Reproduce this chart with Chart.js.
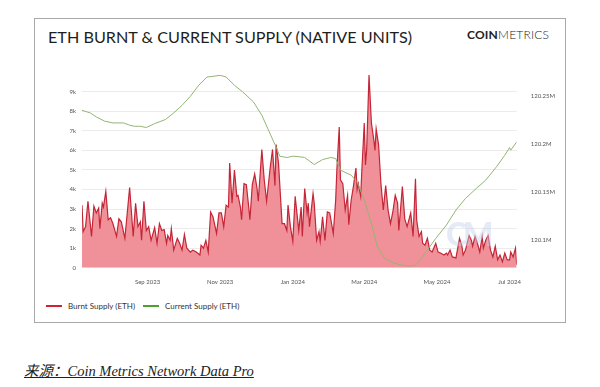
<!DOCTYPE html>
<html>
<head>
<meta charset="utf-8">
<script src="https://cdn.jsdelivr.net/npm/chart.js@4.4.1/dist/chart.umd.min.js"></script>
<style>
  body { margin: 0; width: 600px; height: 387px; background: #fff; position: relative; overflow: hidden; font-family: Lato, sans-serif; }
  #card { position: absolute; left: 34px; top: 18px; width: 530px; height: 303px; border: 1px solid #a8a8a8; }
  #title { position: absolute; left: 48px; top: 27px; font-size: 16.2px; color: #1e1e1e; white-space: nowrap; }
  #logo { position: absolute; left: 467px; top: 27px; font-size: 12px; color: #222; letter-spacing: 0.2px; }
  #logo b { font-weight: 700; }
  #logo span { font-weight: 300; }
  #chart { position: absolute; left: 0; top: 0; }
  #mark { position: absolute; left: 446px; top: 214px; font-size: 32px; font-weight: 900; color: rgba(195, 208, 235, 0.45); letter-spacing: -4px; }
  #legend { position: absolute; left: 46px; top: 300px; font-size: 8px; color: #333; white-space: nowrap; }
  #legend i { display: inline-block; width: 16px; height: 2px; vertical-align: middle; margin-right: 6px; }
  #legend span { margin-right: 8px; vertical-align: middle; }
  #source { position: absolute; left: 24px; top: 359px; font-family: "Liberation Serif", "Noto Sans CJK SC", serif; font-style: italic; font-size: 14.5px; color: #222; text-decoration: underline; }
</style>
</head>
<body>
<div id="card"></div>
<div id="title">ETH BURNT &amp; CURRENT SUPPLY (NATIVE UNITS)</div>
<div id="logo"><b>COIN</b><span>METRICS</span></div>
<canvas id="chart" width="600" height="290"></canvas>
<div id="mark">CM</div>
<div id="legend"><i style="background:#cf2234"></i><span>Burnt Supply (ETH)</span><i style="background:#4ea12d"></i><span>Current Supply (ETH)</span></div>
<div id="source">来源：Coin Metrics Network Data Pro</div>
<script>
// day 0 = 2023-07-08
const tickDays = [55, 116, 177, 237, 298, 359];
const tickLabels = ["Sep 2023", "Nov 2023", "Jan 2024", "Mar 2024", "May 2024", "Jul 2024"];

const leftTicks = [0, 1000, 2000, 3000, 4000, 5000, 6000, 7000, 8000, 9000];
const leftLabels = ["0", "1k", "2k", "3k", "4k", "5k", "6k", "7k", "8k", "9k"];
const rightTicks = [120.1, 120.15, 120.2, 120.25];
const rightLabels = ["120.1M", "120.15M", "120.2M", "120.25M"];

// Burnt supply (ETH)
const burntDays = [0, 1, 3, 5, 8, 10, 12, 14, 15, 17, 18, 20, 22, 24, 26, 29, 31, 33, 36, 40,
  43, 45, 47, 49, 50, 52, 54, 56, 58, 61, 63, 65, 67, 69, 71, 72, 74, 75, 77, 80,
  82, 84, 86, 88, 91, 93, 96, 99, 100, 102, 104, 106, 108, 110, 113, 115, 117, 119, 121, 123,
  124, 126, 128, 130, 131, 133, 134, 136, 138, 140, 141, 143, 145, 147, 148, 151, 153, 155, 158, 160,
  162, 163, 165, 168, 170, 172, 173, 175, 177, 179, 182, 184, 185, 187, 189, 190, 191, 194, 195, 197,
  199, 200, 202, 204, 206, 208, 211, 213, 214, 216, 217, 219, 221, 223, 224, 226, 228, 230, 231, 232,
  234, 235, 237, 238, 239, 241, 243, 245, 246, 247, 249, 251, 253, 255, 257, 259, 261, 263, 265, 266,
  269, 271, 273, 276, 278, 280, 281, 283, 285, 286, 288, 290, 292, 294, 297, 299, 301, 304, 306, 307,
  309, 311, 314, 317, 319, 320, 322, 325, 327, 328, 330, 332, 334, 336, 337, 339, 341, 343, 345, 347,
  349, 351, 353, 355, 357, 359, 360, 362, 364, 365];
const burntValues = [3200, 1850, 2100, 3400, 1600, 3150, 2800, 3050, 2000, 3300, 3100, 3900, 2450, 2550, 2250, 1600, 2500, 2350, 1500, 4100,
  1600, 3300, 2100, 2350, 1400, 3400, 1900, 2100, 1400, 2050, 1250, 2250, 1900, 1950, 1250, 1650, 1400, 2000, 900, 1500,
  1250, 900, 1700, 1000, 800, 900, 800, 650, 1150, 1000, 1400, 800, 2850, 2600, 1750, 2800, 2800, 2100, 3200, 3100,
  5350, 3300, 5000, 3650, 3700, 3100, 2450, 4300, 4250, 3100, 2450, 4250, 4800, 4050, 3400, 6050, 4500, 3400, 5100, 6050,
  4200, 6300, 5350, 2250, 2250, 1900, 3200, 2100, 1350, 3650, 1900, 3100, 1600, 4050, 2800, 3300, 2100, 3800, 3300, 1400,
  1850, 1350, 2600, 1400, 2850, 2800, 1750, 3450, 5000, 7200, 4500, 4300, 2950, 3700, 2200, 3450, 4200, 5100, 4000, 4300,
  3650, 5000, 7400, 5250, 6000, 9850, 7400, 6550, 6000, 7100, 6300, 4300, 2950, 4200, 2950, 2250, 2850, 3700, 3300, 1900,
  4150, 2500, 2100, 2800, 1600, 4550, 2450, 1600, 1850, 1250, 1150, 1500, 900, 800, 1250, 800, 750, 650, 750, 650,
  900, 550, 500, 1500, 1100, 650, 900, 1650, 1400, 1100, 1600, 1250, 800, 1600, 1000, 1400, 1650, 900, 550, 1100,
  400, 650, 300, 750, 400, 400, 800, 550, 1000, 150];

// Current supply (million ETH)
const supplyDays = [0, 7, 12, 19, 26, 35, 40, 44, 49, 54, 61, 70, 77, 84, 91, 98, 105, 110, 116, 121,
  128, 135, 144, 151, 156, 161, 163, 166, 172, 177, 183, 187, 195, 202, 209, 213, 217, 226, 231, 237,
  243, 248, 254, 261, 268, 275, 280, 286, 292, 297, 306, 314, 322, 331, 339, 348, 355, 359, 360, 365];
const supplyValues = [120.2354, 120.2326, 120.2285, 120.2240, 120.2222, 120.2222, 120.2198, 120.2187, 120.2187, 120.2174,
  120.2215, 120.2257, 120.2326, 120.2406, 120.2500, 120.2615, 120.2701, 120.2708, 120.2719, 120.2701,
  120.2615, 120.2545, 120.2441, 120.2302, 120.2163, 120.2024, 120.1972, 120.1875, 120.1861, 120.1875,
  120.1868, 120.1861, 120.1788, 120.1840, 120.1861, 120.1851, 120.1729, 120.1677, 120.1607, 120.1417,
  120.1174, 120.0930, 120.0809, 120.0764, 120.0740, 120.0729, 120.0736, 120.0826, 120.0930, 120.1017,
  120.1156, 120.1313, 120.1434, 120.1538, 120.1625, 120.1764, 120.1885, 120.1965, 120.1938, 120.2024];

const toPoints = (xs, ys) => xs.map((d, i) => ({ x: d, y: ys[i] }));
const tickFont = { family: "Lato", size: 6 };

new Chart(document.getElementById("chart"), {
  type: "line",
  data: {
    datasets: [
      {
        label: "Current Supply (ETH)",
        data: toPoints(supplyDays, supplyValues),
        yAxisID: "y1",
        borderColor: "#93b574",
        borderWidth: 1,
        pointRadius: 0,
        fill: false,
        order: 1
      },
      {
        label: "Burnt Supply (ETH)",
        data: toPoints(burntDays, burntValues),
        yAxisID: "y",
        borderColor: "#c42638",
        backgroundColor: "#f0919a",
        borderWidth: 1.2,
        pointRadius: 0,
        fill: "origin",
        order: 2
      }
    ]
  },
  options: {
    responsive: false,
    animation: false,
    devicePixelRatio: 1,
    layout: { padding: { top: 75, left: 0, right: 0, bottom: 0 } },
    plugins: { legend: { display: false }, tooltip: { enabled: false } },
    scales: {
      x: {
        type: "linear",
        min: 0,
        max: 365,
        afterBuildTicks: s => { s.ticks = tickDays.map(v => ({ value: v })); },
        afterFit: s => { s.height = 22.3; },
        grid: { display: false },
        border: { display: false },
        ticks: { font: tickFont, color: "#555", padding: 3, maxRotation: 0,
          callback: (v, i) => tickLabels[i] }
      },
      y: {
        position: "left",
        min: 0,
        max: 9857,
        afterBuildTicks: s => { s.ticks = leftTicks.map(v => ({ value: v })); },
        afterFit: s => { s.width = 82; },
        grid: { color: "#ebebeb", drawTicks: false },
        border: { display: false },
        ticks: { font: tickFont, color: "#555", padding: 6,
          callback: (v, i) => leftLabels[i] }
      },
      y1: {
        position: "right",
        min: 120.07115,
        max: 120.2722,
        afterBuildTicks: s => { s.ticks = rightTicks.map(v => ({ value: v })); },
        afterFit: s => { s.width = 83.3; },
        grid: { display: false },
        border: { display: false },
        ticks: { font: tickFont, color: "#555", padding: 6,
          callback: (v, i) => rightLabels[i] }
      }
    }
  }
});
</script>
</body>
</html>
